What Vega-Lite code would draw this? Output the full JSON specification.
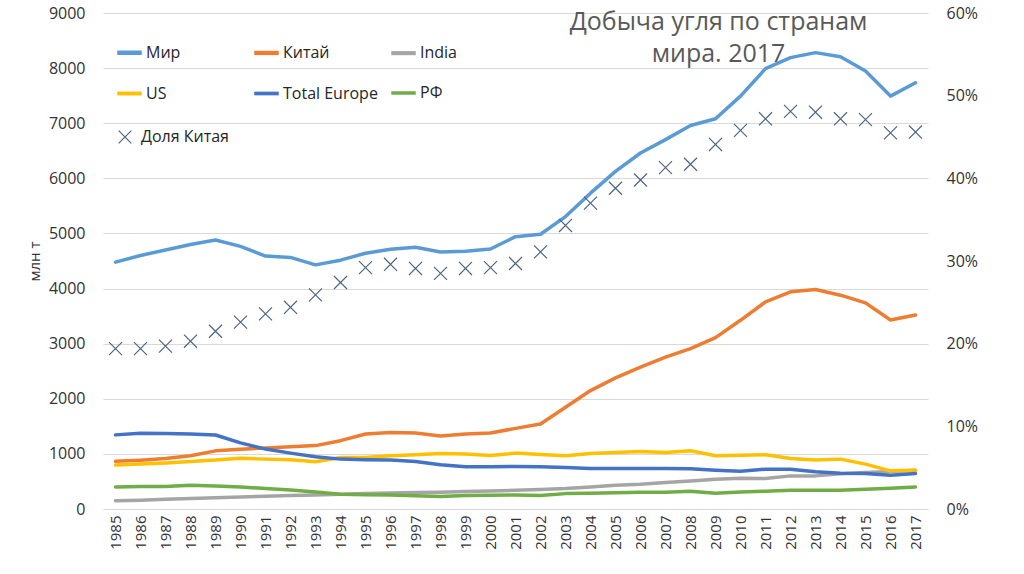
{
  "$schema": "https://vega.github.io/schema/vega-lite/v6.json",
  "width": 825,
  "height": 496,
  "autosize": {"type": "none"},
  "padding": {"left": 103, "top": 13, "right": 96, "bottom": 65},
  "background": "#ffffff",
  "config": {
    "font": "Open Sans",
    "view": {"stroke": null},
    "axis": {"labelFont": "Open Sans", "labelColor": "#333333", "titleColor": "#333333", "labelFontSize": 15}
  },
  "title": {
    "text": ["Добыча угля по странам", "мира. 2017"],
    "anchor": "middle",
    "align": "center",
    "dx": 203,
    "dy": 87,
    "offset": 0,
    "baseline": "bottom",
    "fontSize": 25,
    "fontWeight": "normal",
    "font": "Open Sans",
    "color": "#595959",
    "lineHeight": 32
  },
  "datasets": {
    "lines": [
      {"year": 1985, "series": "Мир", "value": 4480},
      {"year": 1986, "series": "Мир", "value": 4600},
      {"year": 1987, "series": "Мир", "value": 4700},
      {"year": 1988, "series": "Мир", "value": 4800},
      {"year": 1989, "series": "Мир", "value": 4880},
      {"year": 1990, "series": "Мир", "value": 4765},
      {"year": 1991, "series": "Мир", "value": 4590},
      {"year": 1992, "series": "Мир", "value": 4565},
      {"year": 1993, "series": "Мир", "value": 4430},
      {"year": 1994, "series": "Мир", "value": 4515},
      {"year": 1995, "series": "Мир", "value": 4640},
      {"year": 1996, "series": "Мир", "value": 4712},
      {"year": 1997, "series": "Мир", "value": 4750},
      {"year": 1998, "series": "Мир", "value": 4665},
      {"year": 1999, "series": "Мир", "value": 4675},
      {"year": 2000, "series": "Мир", "value": 4718},
      {"year": 2001, "series": "Мир", "value": 4942},
      {"year": 2002, "series": "Мир", "value": 4985},
      {"year": 2003, "series": "Мир", "value": 5306},
      {"year": 2004, "series": "Мир", "value": 5731},
      {"year": 2005, "series": "Мир", "value": 6126},
      {"year": 2006, "series": "Мир", "value": 6460},
      {"year": 2007, "series": "Мир", "value": 6703},
      {"year": 2008, "series": "Мир", "value": 6958},
      {"year": 2009, "series": "Мир", "value": 7080},
      {"year": 2010, "series": "Мир", "value": 7492},
      {"year": 2011, "series": "Мир", "value": 7990},
      {"year": 2012, "series": "Мир", "value": 8190},
      {"year": 2013, "series": "Мир", "value": 8281},
      {"year": 2014, "series": "Мир", "value": 8208},
      {"year": 2015, "series": "Мир", "value": 7948},
      {"year": 2016, "series": "Мир", "value": 7492},
      {"year": 2017, "series": "Мир", "value": 7735},
      {"year": 1985, "series": "Китай", "value": 865},
      {"year": 1986, "series": "Китай", "value": 885},
      {"year": 1987, "series": "Китай", "value": 915},
      {"year": 1988, "series": "Китай", "value": 965},
      {"year": 1989, "series": "Китай", "value": 1055},
      {"year": 1990, "series": "Китай", "value": 1085},
      {"year": 1991, "series": "Китай", "value": 1105},
      {"year": 1992, "series": "Китай", "value": 1130},
      {"year": 1993, "series": "Китай", "value": 1150},
      {"year": 1994, "series": "Китай", "value": 1240},
      {"year": 1995, "series": "Китай", "value": 1360},
      {"year": 1996, "series": "Китай", "value": 1390},
      {"year": 1997, "series": "Китай", "value": 1380},
      {"year": 1998, "series": "Китай", "value": 1325},
      {"year": 1999, "series": "Китай", "value": 1360},
      {"year": 2000, "series": "Китай", "value": 1380},
      {"year": 2001, "series": "Китай", "value": 1463},
      {"year": 2002, "series": "Китай", "value": 1543},
      {"year": 2003, "series": "Китай", "value": 1845},
      {"year": 2004, "series": "Китай", "value": 2149},
      {"year": 2005, "series": "Китай", "value": 2380},
      {"year": 2006, "series": "Китай", "value": 2574},
      {"year": 2007, "series": "Китай", "value": 2756},
      {"year": 2008, "series": "Китай", "value": 2909},
      {"year": 2009, "series": "Китай", "value": 3109},
      {"year": 2010, "series": "Китай", "value": 3424},
      {"year": 2011, "series": "Китай", "value": 3758},
      {"year": 2012, "series": "Китай", "value": 3940},
      {"year": 2013, "series": "Китай", "value": 3983},
      {"year": 2014, "series": "Китай", "value": 3880},
      {"year": 2015, "series": "Китай", "value": 3740},
      {"year": 2016, "series": "Китай", "value": 3430},
      {"year": 2017, "series": "Китай", "value": 3520},
      {"year": 1985, "series": "India", "value": 150},
      {"year": 1986, "series": "India", "value": 160},
      {"year": 1987, "series": "India", "value": 175},
      {"year": 1988, "series": "India", "value": 190},
      {"year": 1989, "series": "India", "value": 205},
      {"year": 1990, "series": "India", "value": 220},
      {"year": 1991, "series": "India", "value": 232},
      {"year": 1992, "series": "India", "value": 245},
      {"year": 1993, "series": "India", "value": 255},
      {"year": 1994, "series": "India", "value": 267},
      {"year": 1995, "series": "India", "value": 280},
      {"year": 1996, "series": "India", "value": 290},
      {"year": 1997, "series": "India", "value": 298},
      {"year": 1998, "series": "India", "value": 305},
      {"year": 1999, "series": "India", "value": 316},
      {"year": 2000, "series": "India", "value": 328},
      {"year": 2001, "series": "India", "value": 340},
      {"year": 2002, "series": "India", "value": 352},
      {"year": 2003, "series": "India", "value": 370},
      {"year": 2004, "series": "India", "value": 401},
      {"year": 2005, "series": "India", "value": 431},
      {"year": 2006, "series": "India", "value": 449},
      {"year": 2007, "series": "India", "value": 479},
      {"year": 2008, "series": "India", "value": 510},
      {"year": 2009, "series": "India", "value": 540},
      {"year": 2010, "series": "India", "value": 558},
      {"year": 2011, "series": "India", "value": 552},
      {"year": 2012, "series": "India", "value": 601},
      {"year": 2013, "series": "India", "value": 601},
      {"year": 2014, "series": "India", "value": 638},
      {"year": 2015, "series": "India", "value": 662},
      {"year": 2016, "series": "India", "value": 680},
      {"year": 2017, "series": "India", "value": 705},
      {"year": 1985, "series": "US", "value": 800},
      {"year": 1986, "series": "US", "value": 815},
      {"year": 1987, "series": "US", "value": 835},
      {"year": 1988, "series": "US", "value": 862},
      {"year": 1989, "series": "US", "value": 887},
      {"year": 1990, "series": "US", "value": 923},
      {"year": 1991, "series": "US", "value": 905},
      {"year": 1992, "series": "US", "value": 893},
      {"year": 1993, "series": "US", "value": 856},
      {"year": 1994, "series": "US", "value": 935},
      {"year": 1995, "series": "US", "value": 935},
      {"year": 1996, "series": "US", "value": 965},
      {"year": 1997, "series": "US", "value": 984},
      {"year": 1998, "series": "US", "value": 1008},
      {"year": 1999, "series": "US", "value": 996},
      {"year": 2000, "series": "US", "value": 970},
      {"year": 2001, "series": "US", "value": 1014},
      {"year": 2002, "series": "US", "value": 990},
      {"year": 2003, "series": "US", "value": 965},
      {"year": 2004, "series": "US", "value": 1008},
      {"year": 2005, "series": "US", "value": 1026},
      {"year": 2006, "series": "US", "value": 1044},
      {"year": 2007, "series": "US", "value": 1026},
      {"year": 2008, "series": "US", "value": 1056},
      {"year": 2009, "series": "US", "value": 965},
      {"year": 2010, "series": "US", "value": 977},
      {"year": 2011, "series": "US", "value": 984},
      {"year": 2012, "series": "US", "value": 916},
      {"year": 2013, "series": "US", "value": 887},
      {"year": 2014, "series": "US", "value": 905},
      {"year": 2015, "series": "US", "value": 814},
      {"year": 2016, "series": "US", "value": 692},
      {"year": 2017, "series": "US", "value": 705},
      {"year": 1985, "series": "Total Europe", "value": 1345},
      {"year": 1986, "series": "Total Europe", "value": 1375},
      {"year": 1987, "series": "Total Europe", "value": 1370},
      {"year": 1988, "series": "Total Europe", "value": 1360},
      {"year": 1989, "series": "Total Europe", "value": 1342},
      {"year": 1990, "series": "Total Europe", "value": 1200},
      {"year": 1991, "series": "Total Europe", "value": 1087},
      {"year": 1992, "series": "Total Europe", "value": 1014},
      {"year": 1993, "series": "Total Europe", "value": 947},
      {"year": 1994, "series": "Total Europe", "value": 905},
      {"year": 1995, "series": "Total Europe", "value": 893},
      {"year": 1996, "series": "Total Europe", "value": 887},
      {"year": 1997, "series": "Total Europe", "value": 862},
      {"year": 1998, "series": "Total Europe", "value": 801},
      {"year": 1999, "series": "Total Europe", "value": 768},
      {"year": 2000, "series": "Total Europe", "value": 768},
      {"year": 2001, "series": "Total Europe", "value": 771},
      {"year": 2002, "series": "Total Europe", "value": 765},
      {"year": 2003, "series": "Total Europe", "value": 753},
      {"year": 2004, "series": "Total Europe", "value": 735},
      {"year": 2005, "series": "Total Europe", "value": 735},
      {"year": 2006, "series": "Total Europe", "value": 735},
      {"year": 2007, "series": "Total Europe", "value": 735},
      {"year": 2008, "series": "Total Europe", "value": 729},
      {"year": 2009, "series": "Total Europe", "value": 705},
      {"year": 2010, "series": "Total Europe", "value": 686},
      {"year": 2011, "series": "Total Europe", "value": 723},
      {"year": 2012, "series": "Total Europe", "value": 723},
      {"year": 2013, "series": "Total Europe", "value": 674},
      {"year": 2014, "series": "Total Europe", "value": 650},
      {"year": 2015, "series": "Total Europe", "value": 644},
      {"year": 2016, "series": "Total Europe", "value": 613},
      {"year": 2017, "series": "Total Europe", "value": 644},
      {"year": 1985, "series": "РФ", "value": 400},
      {"year": 1986, "series": "РФ", "value": 407},
      {"year": 1987, "series": "РФ", "value": 407},
      {"year": 1988, "series": "РФ", "value": 430},
      {"year": 1989, "series": "РФ", "value": 419},
      {"year": 1990, "series": "РФ", "value": 401},
      {"year": 1991, "series": "РФ", "value": 370},
      {"year": 1992, "series": "РФ", "value": 346},
      {"year": 1993, "series": "РФ", "value": 310},
      {"year": 1994, "series": "РФ", "value": 267},
      {"year": 1995, "series": "РФ", "value": 257},
      {"year": 1996, "series": "РФ", "value": 255},
      {"year": 1997, "series": "РФ", "value": 240},
      {"year": 1998, "series": "РФ", "value": 225},
      {"year": 1999, "series": "РФ", "value": 243},
      {"year": 2000, "series": "РФ", "value": 250},
      {"year": 2001, "series": "РФ", "value": 255},
      {"year": 2002, "series": "РФ", "value": 245},
      {"year": 2003, "series": "РФ", "value": 279},
      {"year": 2004, "series": "РФ", "value": 285},
      {"year": 2005, "series": "РФ", "value": 297},
      {"year": 2006, "series": "РФ", "value": 303},
      {"year": 2007, "series": "РФ", "value": 305},
      {"year": 2008, "series": "РФ", "value": 322},
      {"year": 2009, "series": "РФ", "value": 285},
      {"year": 2010, "series": "РФ", "value": 310},
      {"year": 2011, "series": "РФ", "value": 322},
      {"year": 2012, "series": "РФ", "value": 340},
      {"year": 2013, "series": "РФ", "value": 340},
      {"year": 2014, "series": "РФ", "value": 340},
      {"year": 2015, "series": "РФ", "value": 358},
      {"year": 2016, "series": "РФ", "value": 376},
      {"year": 2017, "series": "РФ", "value": 401}
    ],
    "share": [
      {"year": 1985, "series": "Доля Китая", "share": 0.194},
      {"year": 1986, "series": "Доля Китая", "share": 0.194},
      {"year": 1987, "series": "Доля Китая", "share": 0.197},
      {"year": 1988, "series": "Доля Китая", "share": 0.203},
      {"year": 1989, "series": "Доля Китая", "share": 0.215},
      {"year": 1990, "series": "Доля Китая", "share": 0.226},
      {"year": 1991, "series": "Доля Китая", "share": 0.236},
      {"year": 1992, "series": "Доля Китая", "share": 0.244},
      {"year": 1993, "series": "Доля Китая", "share": 0.259},
      {"year": 1994, "series": "Доля Китая", "share": 0.274},
      {"year": 1995, "series": "Доля Китая", "share": 0.292},
      {"year": 1996, "series": "Доля Китая", "share": 0.296},
      {"year": 1997, "series": "Доля Китая", "share": 0.291},
      {"year": 1998, "series": "Доля Китая", "share": 0.285},
      {"year": 1999, "series": "Доля Китая", "share": 0.291},
      {"year": 2000, "series": "Доля Китая", "share": 0.292},
      {"year": 2001, "series": "Доля Китая", "share": 0.297},
      {"year": 2002, "series": "Доля Китая", "share": 0.311},
      {"year": 2003, "series": "Доля Китая", "share": 0.343},
      {"year": 2004, "series": "Доля Китая", "share": 0.370},
      {"year": 2005, "series": "Доля Китая", "share": 0.388},
      {"year": 2006, "series": "Доля Китая", "share": 0.398},
      {"year": 2007, "series": "Доля Китая", "share": 0.413},
      {"year": 2008, "series": "Доля Китая", "share": 0.417},
      {"year": 2009, "series": "Доля Китая", "share": 0.441},
      {"year": 2010, "series": "Доля Китая", "share": 0.458},
      {"year": 2011, "series": "Доля Китая", "share": 0.472},
      {"year": 2012, "series": "Доля Китая", "share": 0.481},
      {"year": 2013, "series": "Доля Китая", "share": 0.480},
      {"year": 2014, "series": "Доля Китая", "share": 0.472},
      {"year": 2015, "series": "Доля Китая", "share": 0.471},
      {"year": 2016, "series": "Доля Китая", "share": 0.455},
      {"year": 2017, "series": "Доля Китая", "share": 0.456}
    ]
  },
  "layer": [
    {
      "data": {"name": "lines"},
      "mark": {"type": "line", "strokeWidth": 3.5, "strokeCap": "round", "strokeJoin": "round"},
      "encoding": {
        "x": {
          "field": "year",
          "type": "ordinal",
          "scale": {"paddingOuter": 0.5},
          "axis": {
            "title": null,
            "labelAngle": -90,
            "labelPadding": 6,
            "ticks": false,
            "domain": true,
            "domainColor": "#D9D9D9",
            "labelFontSize": 15
          }
        },
        "y": {
          "field": "value",
          "type": "quantitative",
          "scale": {"domain": [0, 9000], "nice": false},
          "axis": {
            "title": "млн т",
            "titleFontSize": 15,
            "titleFontWeight": "normal",
            "titlePadding": 6,
            "values": [0, 1000, 2000, 3000, 4000, 5000, 6000, 7000, 8000, 9000],
            "format": "d",
            "domain": false,
            "ticks": false,
            "labelPadding": 18,
            "labelFontSize": 16,
            "gridColor": "#D9D9D9",
            "grid": true
          }
        },
        "color": {
          "field": "series",
          "type": "nominal",
          "scale": {
            "domain": ["Мир", "Китай", "India", "US", "Total Europe", "РФ"],
            "range": ["#5B9BD5", "#ED7D31", "#A5A5A5", "#FFC000", "#4472C4", "#70AD47"]
          },
          "legend": {
            "title": null,
            "orient": "none",
            "direction": "horizontal",
            "legendX": 12,
            "legendY": 25,
            "columns": 3,
            "gridAlign": "all",
            "columnPadding": 4,
            "rowPadding": 17,
            "symbolType": "stroke",
            "symbolStrokeWidth": 4,
            "symbolSize": 600,
            "labelFontSize": 16,
            "labelColor": "#262626",
            "labelFont": "Open Sans",
            "labelOffset": 2
          }
        },
        "strokeWidth": {
          "field": "series",
          "type": "nominal",
          "scale": {
            "domain": ["Мир", "Китай", "India", "US", "Total Europe", "РФ"],
            "range": [4.5, 3.5, 3.5, 3.5, 3.5, 3.5]
          },
          "legend": null
        }
      }
    },
    {
      "data": {"name": "share"},
      "mark": {"type": "point", "filled": false, "strokeWidth": 1.2, "color": "#4F6580", "opacity": 1},
      "encoding": {
        "x": {"field": "year", "type": "ordinal"},
        "y": {
          "field": "share",
          "type": "quantitative",
          "scale": {"domain": [0, 0.6], "nice": false},
          "axis": {
            "orient": "right",
            "title": null,
            "values": [0, 0.1, 0.2, 0.3, 0.4, 0.5, 0.6],
            "format": ".0%",
            "domain": false,
            "ticks": false,
            "grid": false,
            "labelPadding": 18,
            "labelFontSize": 16
          }
        },
        "shape": {
          "field": "series",
          "type": "nominal",
          "scale": {"domain": ["Доля Китая"], "range": ["M-1,-1L1,1M1,-1L-1,1"]},
          "legend": {
            "title": null,
            "orient": "none",
            "legendX": 14,
            "legendY": 116,
            "symbolSize": 160,
            "symbolStrokeWidth": 1.2,
            "symbolStrokeColor": "#4F6580",
            "labelFontSize": 16,
            "labelColor": "#262626",
            "labelFont": "Open Sans",
            "labelOffset": 8
          }
        },
        "size": {"value": 170}
      }
    }
  ],
  "resolve": {"scale": {"y": "independent"}}
}
